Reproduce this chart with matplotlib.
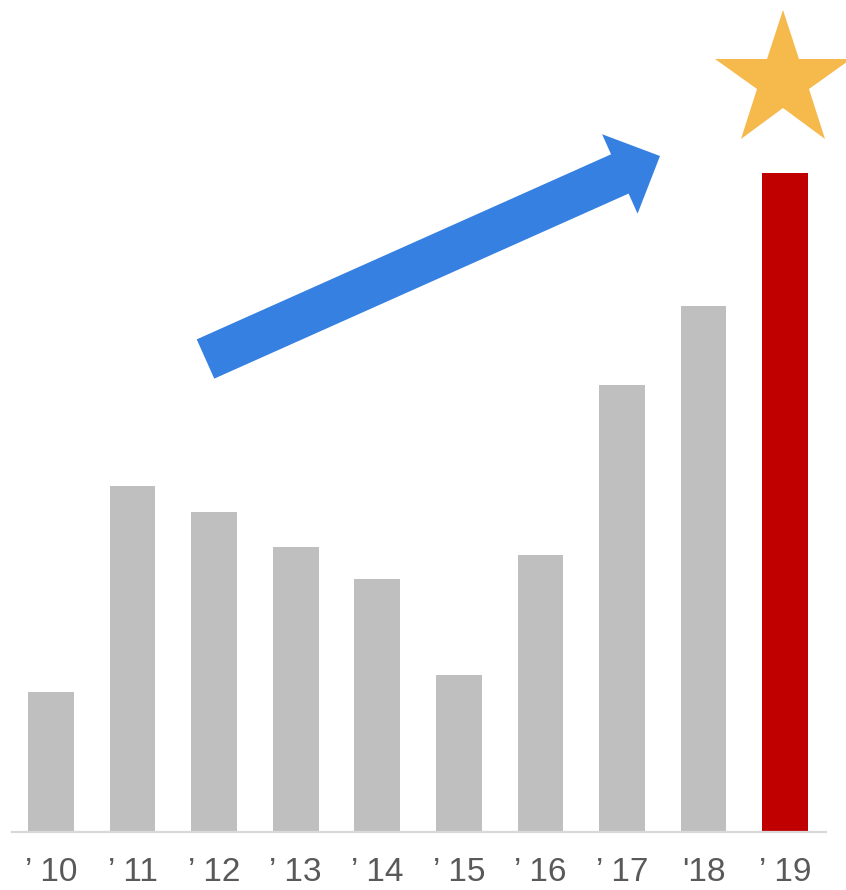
import matplotlib
matplotlib.use('Agg')
import matplotlib.pyplot as plt
from matplotlib.patches import FancyArrow

anos = ['’ 10', '’ 11', '’ 12', '’ 13', '’ 14', '’ 15', '’ 16', '’ 17', "'18", '’ 19']
valores = [140, 346, 320, 285, 253, 157, 277, 447, 526, 659]
cores = ['#BFBFBF'] * 9 + ['#C00000']

plt.rcParams['font.family'] = ['Liberation Sans', 'DejaVu Sans']

fig = plt.figure(figsize=(8.46, 8.90), dpi=100)
ax = fig.add_axes([12/846, 58/890, 814/846, 832/890])

x = list(range(len(anos)))
ax.bar(x, valores, width=0.56, color=cores, zorder=2)

ax.set_xlim(-0.478, 9.5)
ax.set_ylim(0, 832)
ax.set_xticks(x, anos)
ax.tick_params(axis='x', length=0, pad=18, labelsize=24, labelcolor='#595959')
ax.set_yticks([])
for lado in ['top', 'right', 'left']:
    ax.spines[lado].set_visible(False)
ax.spines['bottom'].set_color('#D9D9D9')
ax.spines['bottom'].set_linewidth(1.6)

# seta de tendência (em polegadas da figura)
seta = FancyArrow(2.055, 5.31, 4.545, 2.03, width=0.43, head_width=0.87,
                  head_length=0.44, length_includes_head=True,
                  transform=fig.dpi_scale_trans, color='#3580E0', lw=0)
fig.add_artist(seta)

# estrela acima do último ano
ax.plot([8.97], [valores[-1] + 92], marker='*', markersize=102.7,
        color='#F6B94C', markeredgewidth=0, clip_on=False, zorder=3)

fig.savefig('out.png', dpi=100)
